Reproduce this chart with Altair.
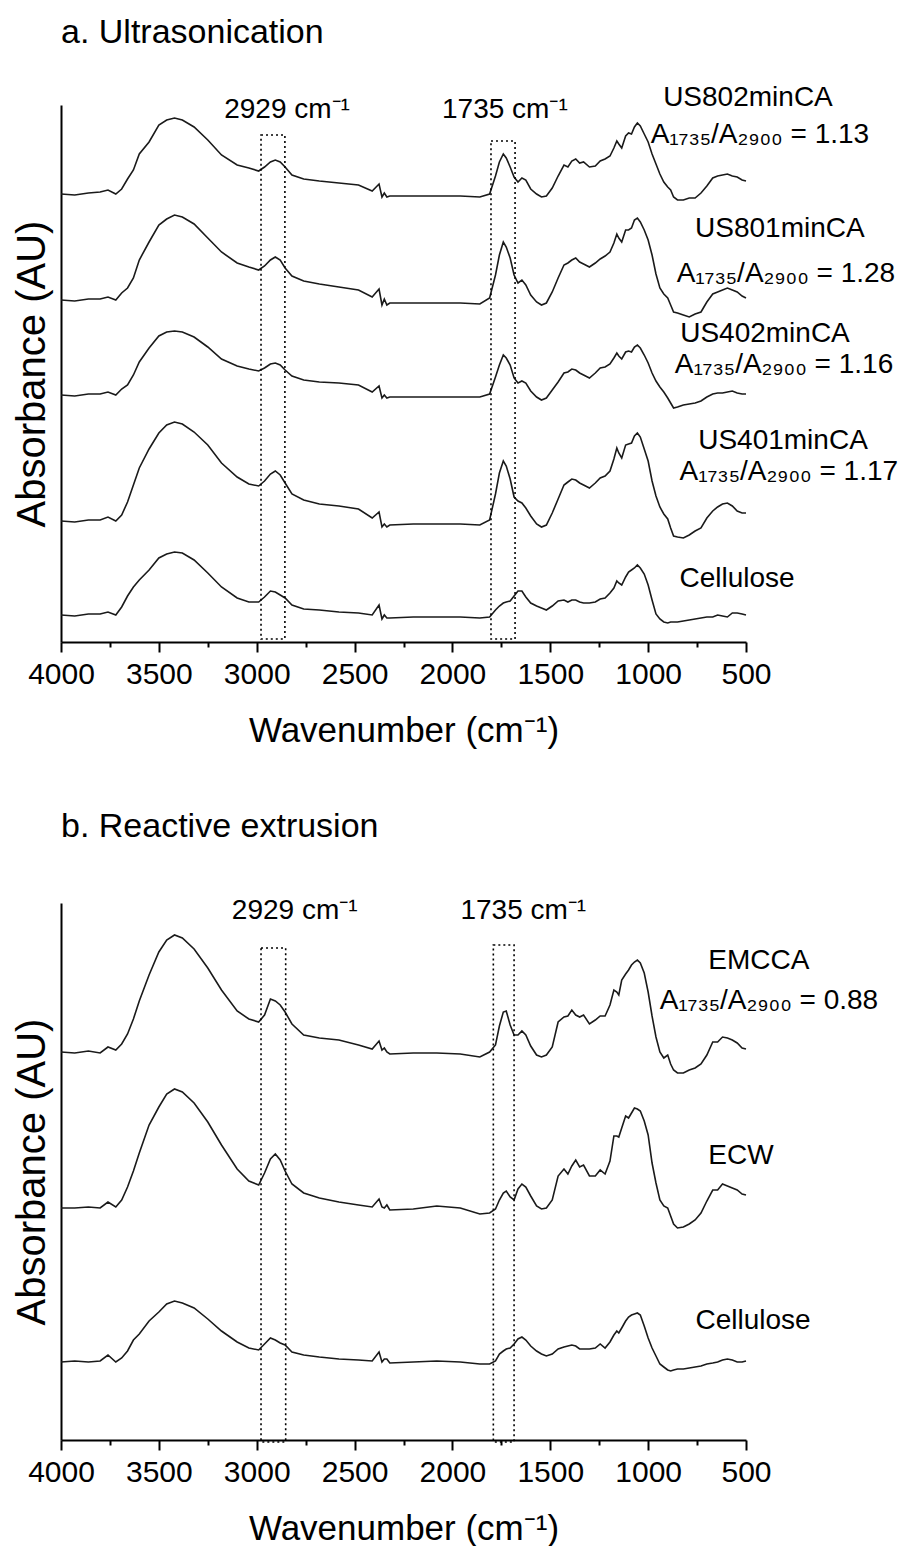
import altair as alt
import pandas as pd

# ---------------- data ----------------
# wavenumber grid (cm-1)
WN = [4000, 3930, 3860, 3800, 3760, 3720, 3690, 3660, 3630, 3600, 3550, 3500, 3460, 3420,
      3380, 3320, 3250, 3180, 3100, 3040, 2990, 2960, 2930, 2905, 2880, 2855, 2820, 2760,
      2680, 2580, 2480, 2410, 2375, 2360, 2348, 2335, 2320, 2200, 2080, 1960, 1860,
      1810, 1780, 1760, 1740, 1725, 1705, 1685, 1665, 1645, 1625, 1600, 1570, 1545, 1520,
      1490, 1460, 1430, 1410, 1390, 1370, 1350, 1330, 1300, 1270, 1245, 1220, 1195, 1175,
      1160, 1150, 1135, 1115, 1100, 1085, 1070, 1055, 1040, 1020, 1000, 980, 960, 940, 920,
      900, 885, 870, 850, 820, 790, 760, 730, 700, 670, 645, 620, 595, 570, 545, 520, 500]

# absorbance of each trace above its own 4000 cm-1 level (x0.01 AU)
US802 = [0, -1, 1, 2, 4, 0, 5, 15, 24, 40, 52, 69, 74, 76, 74, 67, 54, 39, 29, 26, 23, 27, 32, 34,
         32, 27, 19, 15, 13, 11, 9, 3, 10, -3, 1, -3, -2, -2, -2, -2, -3,
         0, 18, 32, 40, 36, 27, 17, 12, 16, 14, 5, 0, -3, -2, 6, 18, 29, 27, 33, 35, 31, 32, 27,
         28, 33, 35, 38, 46, 53, 50, 46, 58, 61, 60, 67, 71, 68, 60, 52, 40, 30, 20, 12, 7, 4,
         -3, -6, -6, -4, -4, 1, 8, 16, 18, 19, 20, 18, 17, 14, 13]
US801 = [0, -1, 1, 1, 3, 0, 7, 12, 22, 40, 58, 75, 81, 85, 83, 76, 62, 48, 37, 33, 30, 34, 40, 43,
         40, 32, 24, 19, 16, 13, 10, 3, 11, -5, 1, -5, -3, -3, -3, -3, -4,
         2, 25, 45, 58, 53, 42, 25, 17, 20, 15, 5, -2, -5, -3, 8, 22, 35, 37, 40, 42, 38, 36, 33,
         37, 41, 44, 48, 57, 66, 62, 58, 70, 70, 72, 80, 82, 78, 70, 60, 45, 26, 12, 6, 2, -5,
         -12, -13, -15, -17, -14, -12, -2, 6, 8, 10, 12, 10, 8, 4, 2]
US402 = [0, -1, 1, 1, 3, 0, 6, 10, 20, 33, 47, 59, 63, 64, 63, 58, 48, 36, 29, 26, 24, 27, 31, 32,
         30, 25, 19, 15, 13, 12, 10, 3, 9, -3, 0, -3, -2, -2, -2, -2, -2,
         1, 18, 30, 40, 37, 30, 17, 12, 14, 12, 4, -2, -5, -3, 5, 13, 22, 23, 26, 25, 22, 20, 17,
         22, 27, 28, 31, 37, 42, 39, 36, 43, 44, 43, 48, 50, 47, 40, 32, 22, 14, 8, 3, -3, -8,
         -13, -12, -10, -9, -8, -6, -2, 1, 2, 2, 3, 4, 2, 1, 1]
US401 = [0, -1, 1, 1, 4, 0, 6, 19, 36, 53, 72, 88, 96, 99, 97, 89, 76, 58, 44, 37, 35, 40, 47, 50,
         46, 38, 27, 21, 17, 15, 12, 3, 9, -6, -3, -6, -4, -3, -3, -3, -4,
         1, 27, 48, 60, 55, 42, 24, 20, 18, 13, 5, -3, -6, -4, 8, 22, 36, 39, 42, 41, 38, 36, 33,
         38, 43, 45, 50, 62, 73, 68, 63, 76, 77, 78, 85, 88, 84, 72, 60, 40, 25, 14, 7, 2, -7,
         -15, -16, -17, -14, -10, -7, 3, 10, 14, 17, 18, 15, 10, 8, 8]
CELL_A = [0, -1, 1, 1, 3, 0, 8, 19, 28, 35, 45, 57, 61, 63, 62, 55, 42, 28, 17, 13, 13, 18, 24, 23,
          20, 17, 10, 6, 5, 3, 2, 0, 10, -4, 0, -3, -3, -2, -2, -2, -3,
          -2, 5, 9, 12, 13, 14, 19, 24, 24, 18, 12, 9, 7, 5, 9, 14, 15, 13, 15, 15, 13, 12, 12,
          13, 16, 17, 22, 27, 34, 32, 30, 38, 43, 45, 47, 50, 47, 41, 30, 15, 1, -4, -7, -8, -7,
          -7, -7, -6, -5, -4, -3, -2, -2, 0, -1, -2, 2, 2, 1, 0]
EMCCA = [0, -1, 1, -1, 5, 2, 8, 18, 33, 51, 77, 100, 112, 117, 114, 103, 84, 62, 41, 33, 30, 37, 53,
         51, 47, 40, 28, 17, 14, 12, 7, 3, 11, 2, 4, 0, -2, -1, -1, -2, -5,
         0, 7, 26, 40, 41, 27, 17, 17, 21, 17, 6, -3, -5, -3, 5, 30, 35, 36, 42, 37, 35, 37, 28,
         32, 36, 36, 47, 62, 60, 57, 72, 78, 82, 87, 90, 92, 89, 79, 60, 36, 15, 0, -6, -3, -12,
         -18, -21, -21, -18, -16, -12, -3, 10, 10, 15, 14, 12, 9, 4, 3]
ECW = [0, 0, 1, 0, 6, 1, 8, 21, 37, 55, 83, 101, 114, 119, 116, 105, 86, 63, 39, 27, 23, 35, 49, 54,
       48, 37, 24, 15, 10, 6, 3, 1, 9, 1, 0, 3, -2, -1, 2, 0, -6,
       -5, -1, 8, 15, 17, 11, 8, 19, 24, 21, 12, 2, -1, 0, 8, 32, 39, 34, 42, 48, 41, 43, 32, 32,
       38, 34, 47, 72, 72, 71, 80, 92, 90, 95, 100, 99, 97, 87, 73, 45, 25, 8, 2, 0, -8, -16,
       -20, -19, -16, -12, -5, 7, 18, 18, 24, 22, 20, 18, 14, 13]
CELL_B = [0, 1, 0, 1, 7, 0, 4, 11, 22, 28, 41, 50, 58, 61, 59, 54, 43, 31, 20, 14, 12, 18, 24, 22,
          19, 17, 10, 7, 5, 3, 2, 1, 10, 0, 3, 3, -1, 0, 1, 0, -2,
          -2, 1, 8, 11, 13, 14, 18, 23, 25, 22, 16, 11, 8, 6, 8, 13, 15, 16, 17, 16, 13, 13, 13,
          14, 18, 14, 20, 27, 31, 29, 34, 41, 45, 47, 48, 49, 47, 36, 24, 14, 6, -2, -5, -8, -9,
          -8, -7, -7, -6, -5, -4, -2, -1, 0, 2, 3, 2, 0, 0, 1]

# vertical offsets of the stacked traces (AU)
NAMES_A = ["US802minCA", "US801minCA", "US402minCA", "US401minCA", "Cellulose"]
OFFSETS_A = [4.48, 3.42, 2.47, 1.21, 0.27]
NAMES_B = ["EMCCA", "ECW", "Cellulose"]
OFFSETS_B = [3.88, 2.32, 0.78]

# dotted marker boxes (cm-1, AU)
BOX_A_WN1 = [2978, 1803]
BOX_A_WN2 = [2856, 1680]
BOX_A_BOT = [0.03, 0.03]
BOX_A_TOP = [5.07, 5.01]
BOX_B_WN1 = [2978, 1791]
BOX_B_WN2 = [2852, 1685]
BOX_B_BOT = [-0.02, -0.02]
BOX_B_TOP = [4.92, 4.95]

RATIO = "A\u2081\u2087\u2083\u2085/A\u2082\u2089\u2080\u2080 = "
CM = " cm\u207b\u00b9"
LAB_A_TEXT = ["2929" + CM, "1735" + CM, "US802minCA", RATIO + "1.13", "US801minCA", RATIO + "1.28",
              "US402minCA", RATIO + "1.16", "US401minCA", RATIO + "1.17", "Cellulose"]
LAB_A_WN = [2845, 1732, 490, 429, 327, 296, 403, 306, 311, 281, 546]
LAB_A_Y = [5.32, 5.32, 5.44, 5.07, 4.13, 3.68, 3.08, 2.77, 2.01, 1.70, 0.63]
LAB_B_TEXT = ["2929" + CM, "1735" + CM, "EMCCA", RATIO + "0.88", "ECW", "Cellulose"]
LAB_B_WN = [2806, 1638, 434, 383, 526, 464]
LAB_B_Y = [5.29, 5.29, 4.79, 4.39, 2.84, 1.19]

TICKS = list(range(4000, 499, -250))
FONT = "Liberation Sans"
W, H = 685, 537
YMAX = 5.37


def panel(title, names, traces, offsets, bw1, bw2, bbot, btop, ltext, lwn, ly, toff):
    rows = []
    for name, vals, off in zip(names, traces, offsets):
        for w, v in zip(WN, vals):
            rows.append({"series": name, "wn": w, "ab": off + v / 100.0})
    spec = pd.DataFrame(rows)
    boxes = pd.DataFrame({"wn": bw1, "wn2": bw2, "ab": bbot, "ab2": btop})
    labels = pd.DataFrame({"wn": lwn, "ab": ly, "t": ltext})

    xaxis = alt.Axis(
        values=TICKS, format="d",
        labelExpr="datum.value % 500 === 0 ? datum.label : ''",
        tickSize={"condition": {"test": "datum.value % 500 === 0", "value": 10}, "value": 5},
        labelFlush=False, labelOverlap=False, grid=False,
        domainColor="black", domainWidth=2, tickColor="black", tickWidth=2,
        labelFont=FONT, labelFontSize=30, labelColor="black", labelPadding=7,
        titleFont=FONT, titleFontSize=35, titleFontWeight="normal", titleColor="black",
        titlePadding=24,
    )
    yaxis = alt.Axis(
        labels=False, ticks=False, grid=False, domainColor="black", domainWidth=2,
        titleFont=FONT, titleFontSize=40, titleFontWeight="normal", titleColor="black",
        titlePadding=9,
    )
    xs = alt.Scale(domain=[500, 4000], reverse=True, nice=False, zero=False)
    ys = alt.Scale(domain=[0, YMAX], nice=False, zero=False)
    X = alt.X("wn:Q", scale=xs, axis=xaxis, title="Wavenumber (cm\u207b\u00b9)")
    Y = alt.Y("ab:Q", scale=ys, axis=yaxis, title="Absorbance (AU)")

    lines = alt.Chart(spec).mark_line(color="#1a1a1a", strokeWidth=1.6).encode(
        x=X, y=Y, detail="series:N")
    rect = alt.Chart(boxes).mark_rect(
        fillOpacity=0, stroke="black", strokeWidth=1.6, strokeDash=[2, 3]).encode(
        x=X, x2="wn2:Q", y=Y, y2="ab2:Q")
    text = alt.Chart(labels).mark_text(
        font=FONT, fontSize=28, color="black", align="center", baseline="middle").encode(
        x=X, y=Y, text="t:N")
    return alt.layer(lines, rect, text).properties(
        width=W, height=H,
        title=alt.TitleParams(title, anchor="start", frame="group", font=FONT, fontSize=34,
                              fontWeight="normal", color="black", offset=toff),
    )


pa = panel("a. Ultrasonication", NAMES_A, [US802, US801, US402, US401, CELL_A], OFFSETS_A,
           BOX_A_WN1, BOX_A_WN2, BOX_A_BOT, BOX_A_TOP, LAB_A_TEXT, LAB_A_WN, LAB_A_Y, 34)
pb = panel("b. Reactive extrusion", NAMES_B, [EMCCA, ECW, CELL_B], OFFSETS_B,
           BOX_B_WN1, BOX_B_WN2, BOX_B_BOT, BOX_B_TOP, LAB_B_TEXT, LAB_B_WN, LAB_B_Y, 53)

chart = alt.vconcat(pa, pb, spacing=62).properties(
    padding={"left": 12, "top": 15, "right": 0, "bottom": 0},
    background="white",
).configure_view(strokeWidth=0)

chart.save("out.html", embed_options={"renderer": "svg", "actions": False})
